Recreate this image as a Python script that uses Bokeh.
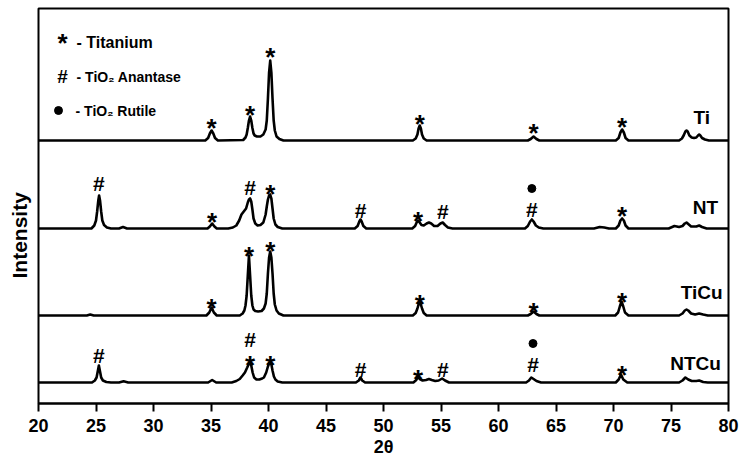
from bokeh.plotting import figure
from bokeh.models import Range1d, Title, FixedTicker
from bokeh.core.properties import value
from bokeh.embed import file_html
from bokeh.resources import INLINE

# ---------------- data (2theta, intensity above each pattern's baseline) ----------------
ti_pts = [(20, 0), (34.5, 0), (34.75, 2.5), (34.9, 7), (35.05, 10), (35.2, 7), (35.35, 2.5), (35.6, 0),
          (37.8, 0.5), (38.0, 3), (38.1, 6), (38.2, 12.5), (38.3, 20), (38.4, 24), (38.5, 20), (38.6, 12.5),
          (38.7, 7), (38.8, 5), (39.0, 4), (39.3, 4),
          (39.55, 6), (39.75, 11), (39.85, 20), (39.95, 42), (40.05, 68), (40.15, 80), (40.25, 68), (40.35, 42),
          (40.45, 20), (40.55, 10), (40.7, 4), (40.95, 1.5), (41.3, 0),
          (52.55, 0), (52.8, 2), (52.95, 6), (53.05, 12), (53.15, 15), (53.25, 12), (53.35, 6), (53.5, 2), (53.75, 0),
          (62.55, 0), (62.8, 1.5), (63.05, 4), (63.3, 1.5), (63.55, 0),
          (70.2, 0), (70.45, 2.5), (70.6, 8), (70.75, 11), (70.9, 8), (71.05, 2.5), (71.3, 0),
          (75.7, 0), (75.95, 2), (76.1, 5), (76.25, 9), (76.35, 10), (76.45, 9), (76.6, 5), (76.8, 3), (77.0, 2.5),
          (77.2, 3), (77.35, 5), (77.45, 6), (77.55, 5), (77.7, 2.5), (77.95, 1), (78.3, 0), (80, 0)]

nt_pts = [(20, 0), (24.6, 0), (24.85, 3), (25.0, 8), (25.1, 17), (25.2, 28), (25.27, 33), (25.35, 28), (25.45, 17),
          (25.55, 8), (25.7, 3.5), (25.95, 1), (26.3, 0),
          (27.0, 0), (27.35, 1.5), (27.7, 0),
          (34.7, 0), (34.9, 2), (35.1, 5), (35.3, 2), (35.5, 0),
          (36.5, 0), (36.9, 1), (37.2, 3), (37.45, 8), (37.65, 14), (37.85, 17), (38.05, 20), (38.2, 26), (38.3, 29),
          (38.4, 30), (38.5, 27), (38.6, 19), (38.7, 10), (38.85, 5), (39.05, 3), (39.3, 3.5), (39.55, 6),
          (39.75, 14), (39.85, 22), (39.95, 29), (40.05, 33), (40.15, 34), (40.25, 30), (40.35, 20), (40.45, 10),
          (40.6, 4), (40.8, 1.5), (41.2, 0),
          (47.5, 0), (47.75, 2.5), (47.9, 7), (48.0, 9), (48.1, 7), (48.25, 2.5), (48.5, 0),
          (52.5, 0), (52.75, 2.5), (52.9, 6.5), (53.0, 8), (53.12, 6.5), (53.3, 3.5), (53.5, 3), (53.75, 5),
          (53.95, 6), (54.15, 5), (54.4, 2.5), (54.7, 2.5), (54.95, 5), (55.15, 6), (55.35, 3.5), (55.6, 1), (56.0, 0),
          (62.3, 0), (62.55, 2.5), (62.75, 7), (62.9, 9), (63.05, 7), (63.25, 3), (63.5, 1), (63.9, 0),
          (68.3, 0), (68.8, 1.5), (69.2, 1), (69.6, 0),
          (70.2, 0), (70.45, 3), (70.6, 8), (70.75, 10), (70.9, 8), (71.05, 3), (71.3, 0),
          (74.8, 0), (75.3, 2.5), (75.7, 1.5), (76.0, 2.5), (76.2, 5), (76.35, 6), (76.5, 4.5), (76.75, 2),
          (77.2, 2), (77.45, 3), (77.7, 1.5), (78.1, 0), (80, 0)]

ticu_pts = [(20, 0), (24.2, 0), (24.5, 1), (24.8, 0),
            (34.6, 0), (34.85, 3), (35.05, 8), (35.25, 3), (35.5, 0),
            (37.5, 0), (37.75, 2), (37.9, 5), (38.0, 10), (38.1, 20), (38.2, 40), (38.3, 60), (38.4, 40), (38.5, 20),
            (38.6, 10), (38.7, 6), (38.85, 4.5), (39.1, 4), (39.4, 4.5), (39.6, 7), (39.75, 12), (39.85, 22),
            (39.95, 42), (40.05, 58), (40.15, 64), (40.25, 58), (40.35, 42), (40.45, 22), (40.55, 11), (40.7, 5),
            (40.9, 2), (41.3, 0),
            (52.55, 0), (52.8, 2.5), (52.95, 7), (53.05, 11), (53.15, 13), (53.25, 11), (53.35, 7), (53.5, 2.5), (53.75, 0),
            (62.55, 0), (62.8, 1.5), (63.05, 4), (63.3, 1.5), (63.55, 0),
            (70.15, 0), (70.4, 3), (70.55, 9), (70.7, 14), (70.85, 9), (71.0, 3), (71.3, 0),
            (75.7, 0), (76.0, 2), (76.2, 5), (76.35, 6), (76.5, 5), (76.75, 2), (77.1, 1), (77.45, 2), (77.8, 1),
            (78.2, 0), (80, 0)]

ntcu_pts = [(20, 0), (24.65, 0), (24.9, 2), (25.05, 5), (25.15, 11), (25.25, 17), (25.35, 11), (25.45, 5), (25.6, 2),
            (25.9, 0.5), (26.3, 0),
            (27.0, 0), (27.4, 1.2), (27.8, 0),
            (34.75, 0), (35.1, 2.5), (35.45, 0),
            (36.8, 0), (37.2, 1.5), (37.5, 3.5), (37.75, 7), (37.95, 10), (38.15, 15), (38.3, 19), (38.4, 20),
            (38.5, 17), (38.62, 10), (38.75, 5), (38.95, 3), (39.2, 3), (39.45, 4), (39.6, 5), (39.8, 10),
            (39.95, 16), (40.05, 19), (40.15, 20), (40.25, 18), (40.35, 12), (40.47, 6), (40.6, 3), (40.8, 1), (41.2, 0),
            (47.6, 0), (47.85, 2), (48.0, 5), (48.15, 2), (48.4, 0),
            (52.6, 0), (52.85, 2.5), (53.0, 6), (53.15, 3.5), (53.4, 2), (53.7, 2.5), (53.95, 3.5), (54.2, 2.5),
            (54.5, 1.5), (54.8, 2), (55.1, 4), (55.35, 2), (55.7, 0),
            (62.4, 0), (62.65, 2), (62.85, 5), (63.05, 3.5), (63.3, 1.5), (63.7, 0),
            (70.2, 0), (70.45, 3), (70.65, 8), (70.85, 3), (71.2, 0),
            (75.7, 0), (76.0, 2), (76.25, 5), (76.5, 3), (76.8, 1.5), (77.2, 1.5), (77.45, 2), (77.8, 0.5), (78.2, 0), (80, 0)]

series_names = ["Ti", "NT", "TiCu", "NTCu"]

# phase markers: (2theta, symbol, level above baseline)
ti_marks = [(35.05, "*", 20), (38.4, "*", 33), (40.15, "*", 91), (53.15, "*", 24), (63.05, "*", 15), (70.75, "*", 21)]
nt_marks = [(25.25, "#", 45), (35.1, "*", 14), (38.4, "#", 41), (40.15, "*", 42), (48.0, "#", 18), (53.0, "*", 15),
            (55.15, "#", 17), (62.9, "#", 19), (62.9, "●", 40), (70.75, "*", 20)]
ticu_marks = [(35.05, "*", 15), (38.3, "*", 67), (40.15, "*", 72), (53.15, "*", 19), (63.05, "*", 11), (70.75, "*", 21)]
ntcu_marks = [(25.25, "#", 27), (38.4, "#", 43), (38.4, "*", 25), (40.15, "*", 25), (48.0, "#", 13), (53.0, "*", 11),
              (55.15, "#", 13), (63.0, "#", 18), (63.0, "●", 39), (70.75, "*", 15)]

legend_symbols = ["*", "#", "●"]
legend_texts = ["- Titanium", "- TiO₂ Anantase", "- TiO₂ Rutile"]
x_ticks = [20, 25, 30, 35, 40, 45, 50, 55, 60, 65, 70, 75, 80]

# ---------------- layout ----------------
baselines = [263, 175, 88, 21]
name_pos = [(77.67, 286), (78.0, 196), (77.67, 111), (77.14, 40)]
FONT = "Liberation Sans"
W, H = 740, 460

p = figure(width=W, height=H, x_range=Range1d(20, 80), y_range=Range1d(0, 395),
           output_backend="svg", toolbar_location=None,
           min_border_left=38, min_border_right=12, min_border_top=8, min_border_bottom=57)
p.background_fill_color = "white"
p.border_fill_color = "white"
p.outline_line_color = "black"
p.outline_line_width = 2
p.outline_line_alpha = 1
p.xgrid.visible = False
p.ygrid.visible = False
p.yaxis.visible = False

ax = p.xaxis[0]
ax.ticker = FixedTicker(ticks=x_ticks)
ax.minor_tick_line_color = None
ax.major_tick_out = 8
ax.major_tick_in = 0
ax.major_tick_line_width = 2
ax.axis_line_width = 2
ax.major_label_text_font = FONT
ax.major_label_text_font_style = "bold"
ax.major_label_text_font_size = "18px"
ax.major_label_text_color = "black"
ax.major_label_standoff = 7
ax.axis_label = "2θ"
ax.axis_label_text_font = FONT
ax.axis_label_text_font_style = "bold"
ax.axis_label_text_font_size = "18px"
ax.axis_label_text_color = "black"
ax.axis_label_standoff = 2

all_pts = [ti_pts, nt_pts, ticu_pts, ntcu_pts]
all_marks = [ti_marks, nt_marks, ticu_marks, ntcu_marks]

for pts, base, marks, name, (nx, ny) in zip(all_pts, baselines, all_marks, series_names, name_pos):
    xs = [a for a, b in pts]
    ys = [b + base for a, b in pts]
    p.line(xs, ys, line_color="black", line_width=2.6, line_join="round")

    stars = [(a, l + base) for a, s, l in marks if s == "*"]
    hashes = [(a, l + base) for a, s, l in marks if s == "#"]
    dots = [(a, l + base) for a, s, l in marks if s == "●"]
    if stars:
        p.text([a for a, b in stars], [b for a, b in stars], text=["*"] * len(stars),
               text_font=value(FONT), text_font_style="bold", text_font_size="26px",
               text_align="center", text_baseline="middle", y_offset=7, text_color="black")
    if hashes:
        p.text([a for a, b in hashes], [b for a, b in hashes], text=["#"] * len(hashes),
               text_font=value(FONT), text_font_style="bold", text_font_size="21px",
               text_align="center", text_baseline="middle", text_color="black")
    if dots:
        p.scatter([a for a, b in dots], [b for a, b in dots], marker="circle", size=8,
                  fill_color="black", line_color="black")
    p.text([nx], [ny], text=[name], text_font=value(FONT), text_font_style="bold",
           text_font_size="19px", text_align="center", text_baseline="middle", text_color="black")

# legend (drawn as text, like the original)
leg_sym_x = [22.09, 22.09, 21.74]
leg_y = [361, 327, 293]
leg_txt_x = [23.31, 23.31, 23.22]
p.text([leg_sym_x[0]], [368], text=[legend_symbols[0]], text_font=value(FONT), text_font_style="bold",
       text_font_size="26px", text_align="center", text_baseline="middle", y_offset=7, text_color="black")
p.text([leg_sym_x[1]], [leg_y[1]], text=[legend_symbols[1]], text_font=value(FONT), text_font_style="bold",
       text_font_size="19px", text_align="center", text_baseline="middle", text_color="black")
p.scatter([leg_sym_x[2]], [leg_y[2]], marker="circle", size=8, fill_color="black", line_color="black")
sizes = ["16px", "14px", "14px"]
for tx, ty, t, fs in zip(leg_txt_x, leg_y, legend_texts, sizes):
    p.text([tx], [ty], text=[t], text_font=value(FONT), text_font_style="bold", text_font_size=fs,
           text_align="left", text_baseline="middle", text_color="black")

ytitle = Title(text="Intensity", align="left", offset=125, standoff=11, vertical_align="top",
               text_font=FONT, text_font_style="bold", text_font_size="21px", text_color="black")
p.add_layout(ytitle, "left")

open("out.html", "w").write(file_html(p, INLINE))
